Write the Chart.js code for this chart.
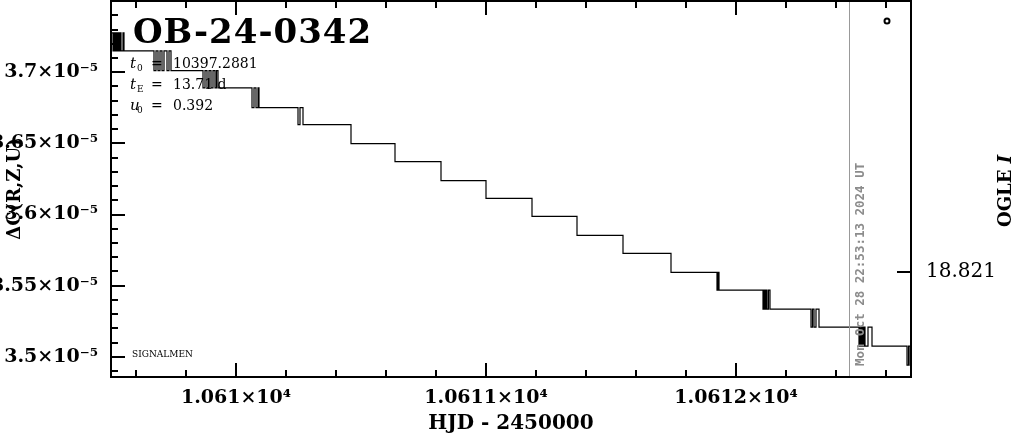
<!DOCTYPE html>
<html>
<head>
<meta charset="utf-8">
<script src="https://cdn.jsdelivr.net/npm/chart.js@4"></script>
<style>
  body { margin: 0; background: #fff; }
  #wrap { width: 1014px; height: 434px; }
</style>
</head>
<body>
<div id="wrap"><canvas id="lcChart"></canvas></div>
<script>
// model light curve (step-like), HJD - 2450000
var hjd = [
  10609.490, 10609.508, 10609.512, 10609.516, 10609.520, 10609.524, 10609.528, 10609.532, 10609.536, 10609.540, 10609.548, 10609.552,
  10609.672, 10609.680, 10609.688, 10609.696, 10609.704, 10609.712, 10609.724, 10609.732, 10609.740,
  10609.868, 10609.876, 10609.884, 10609.892, 10609.900, 10609.908, 10609.916, 10609.922, 10609.928,
  10610.064, 10610.072, 10610.080, 10610.088, 10610.092,
  10610.248, 10610.256, 10610.268,
  10610.460, 10610.636, 10610.820, 10611.000, 10611.184, 10611.364, 10611.548, 10611.740,
  10611.924, 10611.928, 10611.932,
  10612.108, 10612.112, 10612.116, 10612.120, 10612.124, 10612.130, 10612.136,
  10612.300, 10612.306, 10612.312, 10612.320, 10612.332,
  10612.492, 10612.496, 10612.500, 10612.504, 10612.508, 10612.512, 10612.516, 10612.528, 10612.544,
  10612.684, 10612.690, 10612.696, 10612.710
];
var flux = [
  3.7277e-5, 3.7151e-5, 3.7277e-5, 3.7151e-5, 3.7277e-5, 3.7151e-5, 3.7277e-5, 3.7151e-5, 3.7277e-5, 3.7151e-5, 3.7277e-5, 3.7151e-5,
  3.7011e-5, 3.7151e-5, 3.7011e-5, 3.7151e-5, 3.7011e-5, 3.7151e-5, 3.7011e-5, 3.7151e-5, 3.7011e-5,
  3.6891e-5, 3.7011e-5, 3.6891e-5, 3.7011e-5, 3.6891e-5, 3.7011e-5, 3.6891e-5, 3.7011e-5, 3.6891e-5,
  3.6751e-5, 3.6891e-5, 3.6751e-5, 3.6891e-5, 3.6751e-5,
  3.6632e-5, 3.6751e-5, 3.6632e-5,
  3.6499e-5, 3.6372e-5, 3.6239e-5, 3.6113e-5, 3.5987e-5, 3.5853e-5, 3.5727e-5, 3.5594e-5,
  3.5468e-5, 3.5594e-5, 3.5468e-5,
  3.5335e-5, 3.5468e-5, 3.5335e-5, 3.5468e-5, 3.5335e-5, 3.5468e-5, 3.5335e-5,
  3.5208e-5, 3.5335e-5, 3.5208e-5, 3.5335e-5, 3.5208e-5,
  3.5075e-5, 3.5208e-5, 3.5075e-5, 3.5208e-5, 3.5075e-5, 3.5208e-5, 3.5075e-5, 3.5208e-5, 3.5075e-5,
  3.4942e-5, 3.5075e-5, 3.4942e-5, 3.4942e-5
];

// OGLE I point
var ogleHjd = [10612.604];
var ogleMag = [18.8190];

var xTicks = [10610, 10611, 10612];
var xTickLabels = ['1.061×10⁴', '1.0611×10⁴', '1.0612×10⁴'];
var yTicks = [3.5e-5, 3.55e-5, 3.6e-5, 3.65e-5, 3.7e-5];
var yTickLabels = ['3.5×10⁻⁵', '3.55×10⁻⁵', '3.6×10⁻⁵', '3.65×10⁻⁵', '3.7×10⁻⁵'];
var magTicks = [18.821];
var magTickLabels = ['18.821'];

var xMin = 10609.5, xMax = 10612.7;
var yMin = 3.4858e-5, yMax = 3.7501e-5;
var magMin = 18.81884, magMax = 18.82184;

var nowHJD = 10612.4536;
var nowText = 'Mon Oct 28 22:53:13 2024 UT';
var eventName = 'OB-24-0342';
var params = [['t', '0', '10397.2881'], ['t', 'E', '13.71 d'], ['u', '0', '0.392']];

var serif = "'DejaVu Serif', serif";

function noPad(s) {
  s.paddingTop = 0; s.paddingBottom = 0; s.paddingLeft = 0; s.paddingRight = 0;
}

var framePlugin = {
  id: 'frame',
  afterDraw: function (chart) {
    var ctx = chart.ctx;
    var a = chart.chartArea;
    var xs = chart.scales.x, ys = chart.scales.y, y2 = chart.scales.y2;
    ctx.save();

    // time marker
    var nx = Math.round(xs.getPixelForValue(nowHJD)) + 0.5;
    ctx.strokeStyle = '#999';
    ctx.lineWidth = 1;
    ctx.beginPath();
    ctx.moveTo(nx, a.top);
    ctx.lineTo(nx, a.bottom);
    ctx.stroke();

    ctx.save();
    ctx.translate(nx + 14, a.bottom - 11);
    ctx.rotate(-Math.PI / 2);
    ctx.fillStyle = '#8c8c8c';
    ctx.font = "bold 12.5px 'DejaVu Sans Mono', monospace";
    ctx.textBaseline = 'alphabetic';
    ctx.fillText(nowText, 0, 0);
    ctx.restore();

    // ticks
    ctx.strokeStyle = '#000';
    ctx.lineWidth = 2;
    function seg(x1, y1, x2, y2) {
      ctx.beginPath(); ctx.moveTo(x1, y1); ctx.lineTo(x2, y2); ctx.stroke();
    }
    for (var i = 0; i < 16; i++) {
      var t = 10609.6 + i * 0.2;
      var px = Math.round(xs.getPixelForValue(t));
      var len = (i % 5 === 2) ? 14 : 7;
      seg(px, a.bottom, px, a.bottom - len);
      seg(px, a.top, px, a.top + len);
    }
    for (var k = 349; k <= 375; k++) {
      var py = Math.round(ys.getPixelForValue(k * 1e-7));
      if (py < a.top || py > a.bottom) continue;
      seg(a.left, py, a.left + (k % 5 === 0 ? 14 : 7), py);
    }
    magTicks.forEach(function (m) {
      var py = Math.round(y2.getPixelForValue(m));
      seg(a.right, py, a.right - 14, py);
    });

    ctx.strokeRect(a.left, a.top, a.right - a.left, a.bottom - a.top);

    // labels in the plot
    ctx.fillStyle = '#000';
    ctx.textBaseline = 'alphabetic';
    ctx.font = 'bold 34px ' + serif;
    ctx.letterSpacing = '1px';
    ctx.fillText(eventName, 133, 43);
    ctx.letterSpacing = '0px';

    params.forEach(function (p, j) {
      var base = 68 + j * 21;
      ctx.font = 'italic 15px ' + serif;
      ctx.fillText(p[0], 130, base);
      ctx.font = '9px ' + serif;
      ctx.fillText(p[1], 137, base + 3);
      ctx.font = '14px ' + serif;
      ctx.fillText('=', 151, base);
      ctx.fillText(p[2], 173, base);
    });

    ctx.font = '9px ' + serif;
    ctx.fillText('SIGNALMEN', 132, 357);

    // right axis title
    ctx.save();
    ctx.translate(1011, 227);
    ctx.rotate(-Math.PI / 2);
    ctx.font = 'bold 18px ' + serif;
    ctx.fillText('OGLE ', 0, 0);
    var w = ctx.measureText('OGLE ').width;
    ctx.font = 'bold italic 18px ' + serif;
    ctx.fillText('I', w, 0);
    ctx.restore();

    ctx.restore();
  }
};

var ctx = document.getElementById('lcChart').getContext('2d');

var lcChart = new Chart(ctx, {
  type: 'line',
  data: {
    datasets: [{
      data: hjd.map(function (x, i) { return { x: x, y: flux[i] }; }),
      stepped: true,
      borderColor: '#000',
      borderWidth: 1.2,
      pointRadius: 0,
      fill: false,
      yAxisID: 'y'
    }, {
      type: 'scatter',
      data: ogleHjd.map(function (x, i) { return { x: x, y: ogleMag[i] }; }),
      yAxisID: 'y2',
      pointStyle: 'circle',
      pointRadius: 2.5,
      borderWidth: 2,
      borderColor: '#000',
      backgroundColor: '#fff'
    }]
  },
  options: {
    responsive: true,
    maintainAspectRatio: false,
    animation: false,
    devicePixelRatio: 1,
    layout: { autoPadding: false, padding: { top: 1 } },
    plugins: { legend: { display: false }, tooltip: { enabled: false } },
    scales: {
      x: {
        type: 'linear',
        min: xMin,
        max: xMax,
        afterFit: function (s) { s.height = 57; noPad(s); },
        afterBuildTicks: function (s) { s.ticks = xTicks.map(function (v) { return { value: v }; }); },
        grid: { display: false, drawTicks: false },
        border: { display: false },
        ticks: {
          autoSkip: false,
          maxRotation: 0,
          padding: 10,
          color: '#000',
          font: { family: serif, size: 19, weight: 'bold' },
          callback: function (v, i) { return xTickLabels[i]; }
        },
        title: {
          display: true,
          text: 'HJD - 2450000',
          color: '#000',
          padding: { top: 0, bottom: 0 },
          font: { family: serif, size: 20, weight: 'bold', lineHeight: 1 }
        }
      },
      y: {
        type: 'linear',
        position: 'left',
        min: yMin,
        max: yMax,
        afterFit: function (s) { s.width = 111; noPad(s); },
        afterBuildTicks: function (s) { s.ticks = yTicks.map(function (v) { return { value: v }; }); },
        grid: { display: false, drawTicks: false },
        border: { display: false },
        ticks: {
          autoSkip: false,
          padding: 13,
          color: '#000',
          font: { family: serif, size: 19, weight: 'bold' },
          callback: function (v, i) { return yTickLabels[i]; }
        },
        title: {
          display: true,
          text: 'ΔC(R,Z,U)',
          color: '#000',
          padding: { top: 6, bottom: 0 },
          font: { family: serif, size: 18, weight: 'bold', lineHeight: 1 }
        }
      },
      y2: {
        type: 'linear',
        position: 'right',
        reverse: true,
        min: magMin,
        max: magMax,
        afterFit: function (s) { s.width = 103; noPad(s); },
        afterBuildTicks: function (s) { s.ticks = magTicks.map(function (v) { return { value: v }; }); },
        grid: { display: false, drawTicks: false },
        border: { display: false },
        ticks: {
          autoSkip: false,
          padding: 15,
          color: '#000',
          font: { family: serif, size: 20 },
          callback: function (v, i) { return magTickLabels[i]; }
        }
      }
    }
  },
  plugins: [framePlugin]
});
</script>
</body>
</html>
